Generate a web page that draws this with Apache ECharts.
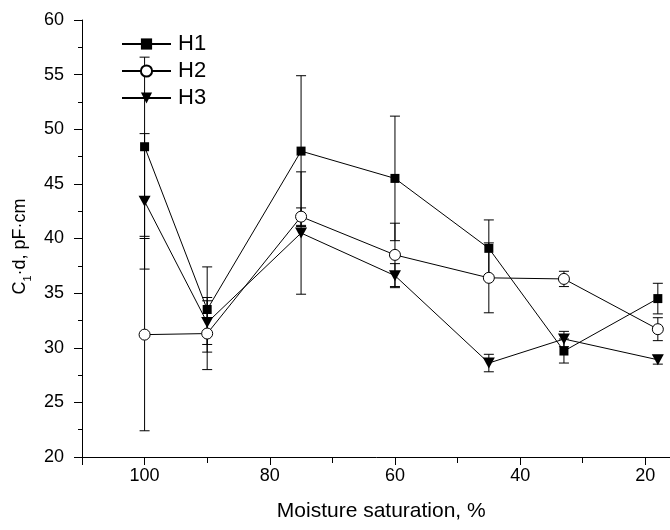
<!DOCTYPE html>
<html>
<head>
<meta charset="utf-8">
<script src="https://cdn.jsdelivr.net/npm/echarts@6/dist/echarts.min.js"></script>
<style>
html,body{margin:0;padding:0;background:#fff;}
#chart{width:670px;height:530px;}
</style>
</head>
<body>
<div id="chart"></div>
<script>
// Data
var moisture = [100, 90, 75, 60, 45, 33, 18];
var h1 = [48.4, 33.5, 48.0, 45.5, 39.1, 29.7, 34.5];
var h1Err = [8.2, 3.9, 6.9, 5.7, 2.6, 1.1, 1.4];
var h2 = [31.2, 31.3, 42.0, 38.5, 36.4, 36.3, 31.7];
var h2Err = [8.8, 3.3, 0.8, 2.9, 3.2, 0.7, 1.05];
var h3 = [43.4, 32.3, 40.5, 36.6, 28.6, 30.8, 28.9];
var h3Err = [6.2, 2.0, 5.6, 1.1, 0.8, 0.7, 0.4];
var seriesNames = ['H1', 'H2', 'H3'];
var yTicks = [20, 25, 30, 35, 40, 45, 50, 55, 60];
var xTicks = [100, 80, 60, 40, 20];

var FONT = '"Liberation Sans", Arial, sans-serif';

function pts(vals) {
  return moisture.map(function (m, i) { return [m, vals[i]]; });
}
function errData(vals, errs) {
  return moisture.map(function (m, i) { return [m, vals[i] - errs[i], vals[i] + errs[i]]; });
}
function errSeries(vals, errs) {
  return {
    type: 'custom',
    silent: true,
    z: 1,
    data: errData(vals, errs),
    encode: { x: 0, y: [1, 2] },
    renderItem: function (params, api) {
      var x = api.value(0);
      var lo = api.coord([x, api.value(1)]);
      var hi = api.coord([x, api.value(2)]);
      var hw = 5;
      var st = { stroke: '#000', lineWidth: 1 };
      return {
        type: 'group',
        children: [
          { type: 'line', shape: { x1: lo[0], y1: lo[1], x2: hi[0], y2: hi[1] }, style: st },
          { type: 'line', shape: { x1: lo[0] - hw, y1: lo[1], x2: lo[0] + hw, y2: lo[1] }, style: st },
          { type: 'line', shape: { x1: hi[0] - hw, y1: hi[1], x2: hi[0] + hw, y2: hi[1] }, style: st }
        ]
      };
    }
  };
}

var chart = echarts.init(document.getElementById('chart'), null, { renderer: 'canvas' });
chart.setOption({
  animation: false,
  backgroundColor: '#fff',
  textStyle: { fontFamily: FONT },
  grid: { left: 82, width: 688.5, top: 20, bottom: 73, containLabel: false, outerBoundsMode: 'none' },
  legend: {
    data: seriesNames,
    orient: 'vertical',
    left: 121,
    top: 33,
    padding: 0,
    itemWidth: 49,
    itemHeight: 14,
    itemGap: 5,
    textStyle: { fontSize: 22, color: '#000', fontFamily: FONT, padding: [0, 0, 0, 2] }
  },
  xAxis: {
    type: 'value',
    min: 0,
    max: 110,
    interval: 20,
    inverse: true,
    name: 'Moisture saturation, %',
    nameLocation: 'middle',
    nameGap: 44,
    nameTextStyle: { fontSize: 21, color: '#000', fontFamily: FONT, padding: [0, 90, 0, 0] },
    axisLine: { onZero: false, lineStyle: { color: '#000', width: 1 } },
    axisTick: { show: true, length: 8, lineStyle: { color: '#000' } },
    minorTick: { show: true, splitNumber: 2, length: 6, lineStyle: { color: '#000' } },
    axisLabel: { fontSize: 18, color: '#000', margin: 10, fontFamily: FONT,
      formatter: function (v) { return xTicks.indexOf(v) >= 0 ? String(v) : ''; } },
    splitLine: { show: false },
    minorSplitLine: { show: false }
  },
  yAxis: {
    type: 'value',
    min: 20,
    max: 60,
    interval: 5,
    name: 'C{sub|1}·d, pF·cm{sp| }',
    nameLocation: 'middle',
    nameRotate: 90,
    nameGap: 41,
    nameTextStyle: {
      fontSize: 18, color: '#000', fontFamily: FONT,
      rich: {
        sub: { fontSize: 11, color: '#000', fontFamily: FONT, verticalAlign: 'bottom', lineHeight: 27 },
        sp: { width: 16, fontSize: 18 }
      }
    },
    axisLine: { onZero: false, lineStyle: { color: '#000', width: 1 } },
    axisTick: { show: true, length: 8, lineStyle: { color: '#000' } },
    minorTick: { show: true, splitNumber: 2, length: 4, lineStyle: { color: '#000' } },
    axisLabel: { fontSize: 18, color: '#000', margin: 18, fontFamily: FONT,
      formatter: function (v) { return yTicks.indexOf(v) >= 0 ? String(v) : ''; } },
    splitLine: { show: false },
    minorSplitLine: { show: false }
  },
  series: [
    errSeries(h1, h1Err),
    errSeries(h2, h2Err),
    errSeries(h3, h3Err),
    {
      name: 'H1', type: 'line', z: 3, data: pts(h1),
      symbol: 'rect', symbolSize: 9,
      lineStyle: { color: '#000', width: 1 },
      itemStyle: { color: '#000', borderColor: '#000', borderWidth: 0 }
    },
    {
      name: 'H2', type: 'line', z: 3, data: pts(h2),
      symbol: 'circle', symbolSize: 11, showAllSymbol: true,
      lineStyle: { color: '#000', width: 1 },
      itemStyle: { color: '#fff', borderColor: '#000', borderWidth: 1 }
    },
    {
      name: 'H3', type: 'line', z: 3, data: pts(h3),
      symbol: 'triangle', symbolSize: [12, 11], symbolRotate: 180,
      lineStyle: { color: '#000', width: 1 },
      itemStyle: { color: '#000', borderColor: '#000', borderWidth: 0 }
    }
  ]
});
</script>
</body>
</html>
